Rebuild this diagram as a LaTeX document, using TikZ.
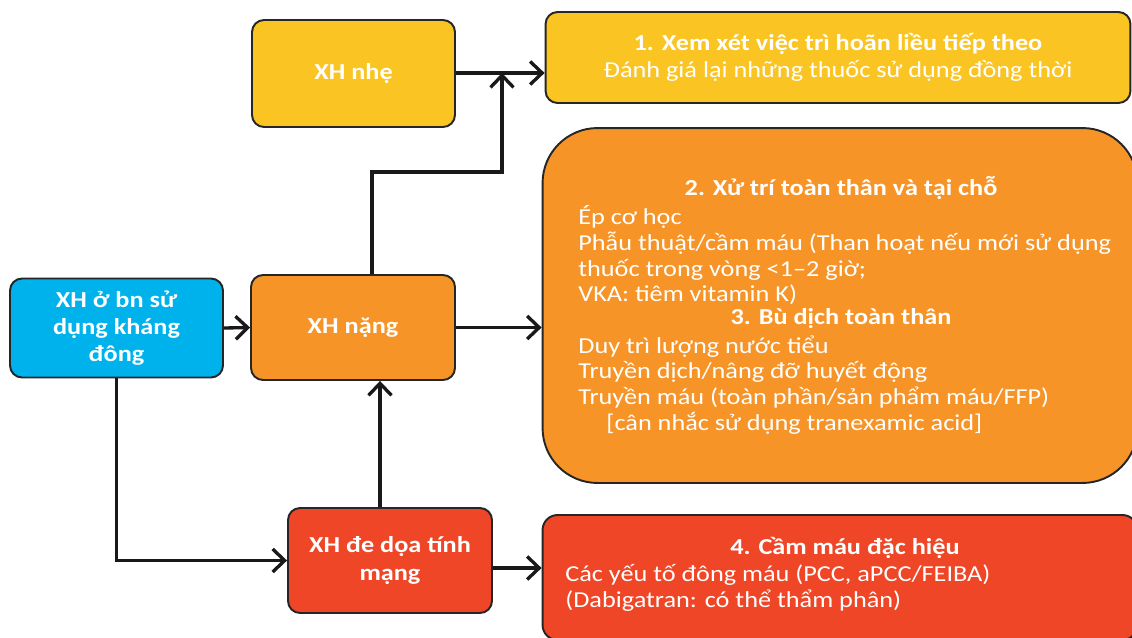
\documentclass[tikz,border=0pt]{standalone}
\usepackage{fontspec}
\setmainfont{Carlito}[FakeStretch=1.15]
\usetikzlibrary{arrows.meta}
\definecolor{vangnhe}{RGB}{250,196,35}
\definecolor{camnang}{RGB}{246,148,40}
\definecolor{doche}{RGB}{238,70,38}
\definecolor{xanhbn}{RGB}{0,178,236}
\begin{document}
\begin{tikzpicture}[x=0.02cm,y=-0.02cm,
  box/.style={draw=black!85,line width=1.1pt,rounded corners=0.24cm,text=white,align=center,
    font=\bfseries\fontsize{13}{15.4}\selectfont},
  conn/.style={draw=black!90,line width=1.9pt,-{Straight Barb[length=2.4mm,width=4.6mm]}},
  txt/.style={text=white,inner sep=0pt,font=\fontsize{13}{14.7}\selectfont},
  head/.style={txt,font=\bfseries\fontsize{13}{14.7}\selectfont}]
\useasboundingbox (0,0) rectangle (1132,637);
\clip (0,0) rectangle (1132,637);
% left column
\node[box,fill=xanhbn,minimum width=4.26cm,minimum height=1.98cm] (bn) at (116.5,328) {XH ở bn sử\\dụng kháng\\đông};
\node[box,fill=camnang,minimum width=4.08cm,minimum height=2.1cm] (nang) at (353,327.5) {XH nặng};
\node[box,fill=vangnhe,minimum width=4.06cm,minimum height=2.14cm] (nhe) at (353.5,73.5) {XH nhẹ};
\node[box,fill=doche,minimum width=4.08cm,minimum height=2.1cm] (dedoa) at (390,560.5) {XH đe dọa tính\\mạng};
% right column
\node[box,fill=vangnhe,minimum width=11.7cm,minimum height=1.82cm,font=\fontsize{13}{15.4}\selectfont] (b1) at (838,57.5)
  {\textbf{1. Xem xét việc trì hoãn liều tiếp theo}\\Đánh giá lại những thuốc sử dụng đồng thời};
\node[box,fill=camnang,rounded corners=1.1cm,minimum width=11.9cm,minimum height=7.1cm] (b23) at (840,305.5) {};
\node[box,fill=doche,rounded corners=0.3cm,minimum width=11.9cm,minimum height=2.5cm] (b4) at (840,577.5) {};
\node[head] (h2) at (841,188) {2. Xử trí toàn thân và tại chỗ};
\node[txt,anchor=north west,align=left] (l2) at (578,205) {Ép cơ học\\Phẫu thuật/cầm máu (Than hoạt nếu mới sử dụng\\thuốc trong vòng <1–2 giờ;\\VKA: tiêm vitamin K)};
\node[head] (h3) at (841,319) {3. Bù dịch toàn thân};
\node[txt,anchor=north west,align=left] (l3) at (578,335) {Duy trì lượng nước tiểu\\Truyền dịch/nâng đỡ huyết động\\Truyền máu (toàn phần/sản phẩm máu/FFP)\\\hspace*{16pt}[cân nhắc sử dụng tranexamic acid]};
\node[head] (h4) at (845,548) {4. Cầm máu đặc hiệu};
\node[txt,anchor=north west,align=left] (l4) at (565,564) {Các yếu tố đông máu (PCC, aPCC/FEIBA)\\(Dabigatran: có thể thẩm phân)};
% connectors
\coordinate (gap) at (372,172);
\coordinate (noi) at (502,73);
\draw[conn] (bn.east) -- (nang.west);
\draw[conn] (nhe.east |- noi) -- (noi -| b1.west);
\draw[conn] (nang.north -| gap) -- (gap) -| (noi);
\draw[conn] (nang.east) -- (nang.east -| b23.west);
\draw[conn] (bn.south) |- (dedoa.west);
\draw[conn] ([xshift=-0.2cm]dedoa.north) -- ([xshift=-0.2cm]dedoa.north |- nang.south);
\draw[conn] ([yshift=-0.15cm]dedoa.east) -- ([yshift=-0.15cm]dedoa.east -| b4.west);
\end{tikzpicture}
\end{document}
